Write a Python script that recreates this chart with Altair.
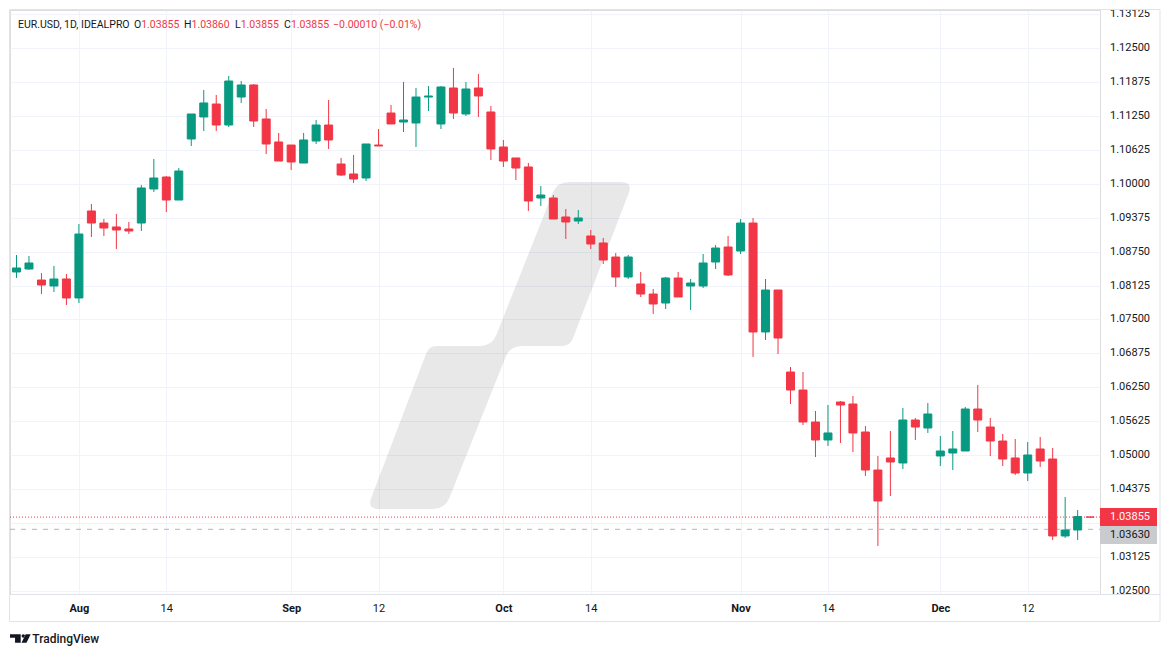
import altair as alt
import pandas as pd
import numpy as np

# ---------------- data ----------------
opens = [1.08374, 1.08429, 1.08226, 1.08116, 1.08245, 1.07895, 1.09499, 1.09277, 1.09204, 1.09167,
         1.09277, 1.09904, 1.10125, 1.09701, 1.10826, 1.11232, 1.11471, 1.11084, 1.11600, 1.11822,
         1.11195, 1.10771, 1.10715, 1.10383, 1.10789, 1.11084, 1.10365, 1.10181, 1.10107, 1.10715,
         1.11305, 1.11139, 1.11121, 1.11600, 1.11103, 1.11766, 1.11287, 1.11766, 1.11324, 1.10678,
         1.10476, 1.10310, 1.09738, 1.09738, 1.09388, 1.09314, 1.09038, 1.08909, 1.08650, 1.08282,
         1.08153, 1.07968, 1.07802, 1.08263, 1.08116, 1.08116, 1.08558, 1.08835, 1.08761, 1.09277,
         1.07268, 1.08042, 1.06530, 1.06198, 1.05608, 1.05277, 1.05977, 1.05940, 1.05424, 1.04723,
         1.04945, 1.04853, 1.05645, 1.05498, 1.04982, 1.05037, 1.05074, 1.05848, 1.05516, 1.05258,
         1.04945, 1.04668, 1.05111, 1.04926, 1.03507, 1.03617, 1.03855]
highs = [1.08687, 1.08669, 1.08355, 1.08485, 1.08337, 1.09259, 1.09628, 1.09351, 1.09443, 1.09296,
         1.09978, 1.10457, 1.10144, 1.10291, 1.11287, 1.11729, 1.11637, 1.11988, 1.11895, 1.11840,
         1.11379, 1.10937, 1.10715, 1.10937, 1.11176, 1.11545, 1.10476, 1.10531, 1.10734, 1.11010,
         1.11453, 1.11877, 1.11766, 1.11803, 1.11803, 1.12135, 1.11877, 1.12024, 1.11434, 1.10808,
         1.10476, 1.10384, 1.09959, 1.09793, 1.09535, 1.09517, 1.09148, 1.09001, 1.08724, 1.08687,
         1.08374, 1.08060, 1.08282, 1.08374, 1.08245, 1.08706, 1.08872, 1.09038, 1.09351, 1.09370,
         1.08245, 1.08042, 1.06622, 1.06530, 1.05811, 1.05922, 1.05996, 1.06088, 1.05535, 1.04982,
         1.05442, 1.05867, 1.05682, 1.05959, 1.05350, 1.05442, 1.05885, 1.06291, 1.05682, 1.05387,
         1.05295, 1.05240, 1.05332, 1.05129, 1.04226, 1.03986, 1.03860]
lows = [1.08263, 1.08411, 1.07968, 1.08005, 1.07766, 1.07802, 1.09019, 1.09038, 1.08798, 1.09075,
        1.09130, 1.09849, 1.09480, 1.09701, 1.10697, 1.10973, 1.10973, 1.11047, 1.11490, 1.11047,
        1.10549, 1.10420, 1.10254, 1.10383, 1.10734, 1.10642, 1.10144, 1.10015, 1.10052, 1.10697,
        1.11103, 1.10955, 1.10679, 1.11342, 1.11010, 1.11195, 1.11250, 1.11232, 1.10439, 1.10310,
        1.10070, 1.09499, 1.09591, 1.09351, 1.08982, 1.09259, 1.08798, 1.08521, 1.08097, 1.08245,
        1.07913, 1.07600, 1.07692, 1.07913, 1.07673, 1.08079, 1.08429, 1.08300, 1.08706, 1.06807,
        1.07120, 1.06862, 1.05940, 1.05553, 1.04963, 1.05166, 1.05221, 1.05055, 1.04613, 1.03322,
        1.04244, 1.04742, 1.05277, 1.05406, 1.04797, 1.04723, 1.05074, 1.05424, 1.04982, 1.04797,
        1.04631, 1.04521, 1.04779, 1.03433, 1.03470, 1.03433, 1.03855]
closes = [1.08448, 1.08540, 1.08134, 1.08245, 1.07895, 1.09074, 1.09277, 1.09185, 1.09148, 1.09130,
          1.09923, 1.10107, 1.09701, 1.10236, 1.11287, 1.11490, 1.11084, 1.11895, 1.11822, 1.11158,
          1.10734, 1.10420, 1.10402, 1.10808, 1.11084, 1.10808, 1.10162, 1.10089, 1.10734, 1.10697,
          1.11103, 1.11176, 1.11600, 1.11619, 1.11785, 1.11305, 1.11748, 1.11619, 1.10642, 1.10420,
          1.10291, 1.09683, 1.09793, 1.09351, 1.09296, 1.09370, 1.08890, 1.08595, 1.08282, 1.08650,
          1.07968, 1.07784, 1.08263, 1.07913, 1.08171, 1.08540, 1.08816, 1.08319, 1.09277, 1.07268,
          1.08042, 1.07157, 1.06198, 1.05608, 1.05277, 1.05406, 1.05922, 1.05406, 1.04723, 1.04152,
          1.04871, 1.05645, 1.05516, 1.05756, 1.05074, 1.05111, 1.05848, 1.05645, 1.05258, 1.04926,
          1.04668, 1.05000, 1.04889, 1.03507, 1.03617, 1.03865, 1.03855]

tick_index = [5, 12, 22, 29, 39, 46, 58, 65, 74, 81]
tick_labels = ["Aug", "14", "Sep", "12", "Oct", "14", "Nov", "14", "Dec", "12"]
price_ticks = [1.02500, 1.03125, 1.03750, 1.04375, 1.05000, 1.05625, 1.06250, 1.06875, 1.07500,
               1.08125, 1.08750, 1.09375, 1.10000, 1.10625, 1.11250, 1.11875, 1.12500, 1.13125]
symbol_name = "EUR.USD, 1D, IDEALPRO"
ref_price = 1.03630

# ---------------- style ----------------
GREEN = "#089981"
RED = "#f23645"
TEXT = "#131722"
GRID = "#f0f3fa"
BORDER = "#e0e3eb"
FONT = "Roboto"
W, H = 1090, 584
X_DOMAIN = [-0.12, 86.39]
Y_DOMAIN = [1.024373, 1.132043]

df = pd.DataFrame({"i": np.arange(len(opens)), "open": opens, "high": highs,
                   "low": lows, "close": closes})
df["dir"] = np.where(df["close"] > df["open"], "up", "down")

x_scale = alt.Scale(domain=X_DOMAIN, nice=False, zero=False)
y_scale = alt.Scale(domain=Y_DOMAIN, nice=False, zero=False)
dir_scale = alt.Scale(domain=["up", "down"], range=[GREEN, RED])

label_expr = "''"
for ix, lab in reversed(list(zip(tick_index, tick_labels))):
    label_expr = f"datum.value == {ix} ? '{lab}' : ({label_expr})"
month_index = [ix for ix, lab in zip(tick_index, tick_labels) if not lab.isdigit()]

x_axis = alt.Axis(values=tick_index, labelExpr=label_expr, grid=True, gridColor=GRID,
                  domain=False, ticks=False, tickSize=0, labelPadding=14,
                  labelBaseline="middle", labelFontSize=11, labelColor=TEXT, labelFont=FONT,
                  labelFontWeight={"condition": {"test": f"indexof({month_index}, datum.value) >= 0",
                                                 "value": "bold"}, "value": "normal"},
                  labelOverlap=False, labelFlush=False, title=None)
# horizontal grid from the axis; price labels drawn as a text layer on the same scale
y_axis = alt.Axis(orient="right", values=price_ticks, grid=True, gridColor=GRID, labels=False,
                  domain=False, ticks=False, tickSize=0, title=None)

one = pd.DataFrame({"a": [0]})


def rounded_path(pts, radii, cx, cy, scale):
    n = len(pts)
    segs = []
    for k in range(n):
        px, py = pts[k]
        r = radii[k]

        def toward(q):
            dx, dy = q[0] - px, q[1] - py
            d = (dx * dx + dy * dy) ** 0.5
            t = min(r, d / 2) / d
            return (px + dx * t, py + dy * t)
        segs.append((toward(pts[k - 1]), (px, py), toward(pts[(k + 1) % n])))

    def u(p):
        return f"{(p[0] - cx) / scale:.4f} {(p[1] - cy) / scale:.4f}"
    d = f"M {u(segs[0][2])}"
    for k in list(range(1, n)) + [0]:
        p1, p, p2 = segs[k]
        d += f" L {u(p1)} Q {u(p)} {u(p2)}"
    return d + " Z"


# watermark (TradingView slash) - decoration
wm_pts = [(557, 182), (633, 182), (570, 346), (510, 346), (445, 509), (367, 509), (429, 346), (492, 346)]
wm_rad = [12, 12, 8, 12, 12, 12, 8, 12]
wm_path = rounded_path(wm_pts, wm_rad, 500, 345.5, 163.5)
watermark = alt.Chart(one).mark_point(shape=wm_path, size=(2 * 163.5) ** 2, filled=True,
                                      color="#000000", opacity=0.09, strokeWidth=0).encode(
    x=alt.value(490), y=alt.value(335.5))

last_price = closes[-1]
lines_df = pd.DataFrame({"price": [last_price], "label": [f"{last_price:.5f}"]})
ref_df = pd.DataFrame({"price": [ref_price], "label": [f"{ref_price:.5f}"]})

Yp = alt.Y("price:Q", scale=y_scale, axis=y_axis)

red_line = alt.Chart(lines_df).mark_rule(color=RED, strokeDash=[1, 2], strokeWidth=1).encode(
    y=Yp, x=alt.value(0), x2=alt.value(W))
gray_line = alt.Chart(ref_df).mark_rule(color="#b2b5be", strokeDash=[5, 6], strokeWidth=1).encode(
    y=Yp, x=alt.value(0), x2=alt.value(W))

wicks = alt.Chart(df).mark_rule(strokeWidth=1, clip=True).encode(
    x=alt.X("i:Q", scale=x_scale, axis=x_axis),
    y=alt.Y("low:Q", scale=y_scale, axis=y_axis),
    y2="high:Q",
    color=alt.Color("dir:N", scale=dir_scale, legend=None))

bodies = alt.Chart(df).mark_bar(size=8, strokeWidth=1, clip=True).encode(
    x=alt.X("i:Q", scale=x_scale, axis=x_axis),
    y=alt.Y("open:Q", scale=y_scale, axis=y_axis),
    y2="close:Q",
    color=alt.Color("dir:N", scale=dir_scale, legend=None),
    stroke=alt.Stroke("dir:N", scale=dir_scale, legend=None))

# price-scale labels (the ones hidden behind the price tags are left out, as in the reference)
label_ticks = [t for t in price_ticks
               if abs(t - last_price) > 0.003 and abs(t - ref_price) > 0.003]
ylab_df = pd.DataFrame({"price": label_ticks, "label": [f"{t:.5f}" for t in label_ticks]})
ylabels = alt.Chart(ylab_df).mark_text(align="left", baseline="middle", fontSize=11, font=FONT,
                                       color=TEXT).encode(
    x=alt.value(W + 10), y=Yp, text="label:N")

# price tags on the price scale
tag_path_red = "M -1 -0.3158 L 1 -0.3158 L 1 0.3158 L -1 0.3158 Z"
tag_path_gray = "M -1 -0.1158 L 1 -0.1158 L 1 0.5158 L -1 0.5158 Z"
red_tag = alt.Chart(lines_df).mark_point(shape=tag_path_red, size=57 ** 2, filled=True, color=RED,
                                         opacity=1, strokeWidth=0).encode(x=alt.value(1118.5), y=Yp)
gray_tag = alt.Chart(ref_df).mark_point(shape=tag_path_gray, size=57 ** 2, filled=True,
                                        color="#c9cbcf", opacity=1, strokeWidth=0).encode(
    x=alt.value(1118.5), y=Yp)
red_tag_text = alt.Chart(lines_df).mark_text(align="left", baseline="middle", color="#ffffff",
                                             fontSize=11, font=FONT).encode(
    x=alt.value(W + 10), y=Yp, text="label:N")
gray_tag_text = alt.Chart(ref_df).mark_text(align="left", baseline="middle", color=TEXT,
                                            fontSize=11, font=FONT, dy=5.7).encode(
    x=alt.value(W + 10), y=Yp, text="label:N")

# frame pieces
cover = alt.Chart(one).mark_rect(color="#ffffff").encode(
    x=alt.value(W + 0.5), x2=alt.value(1150), y=alt.value(584.5), y2=alt.value(611))
frame = alt.Chart(one).mark_rect(fillOpacity=0, stroke=BORDER, strokeWidth=1).encode(
    x=alt.value(-0.5), x2=alt.value(1150), y=alt.value(-0.5), y2=alt.value(611.5))
sep = alt.Chart(one).mark_rule(color=BORDER, strokeWidth=1).encode(
    x=alt.value(-0.5), x2=alt.value(1150), y=alt.value(584.5))

# header legend
prev_close = closes[-2]
chg = closes[-1] - prev_close
pct = chg / prev_close * 100
sign = "\u2212" if chg < 0 else "+"
chg_txt = f"{sign}{abs(chg):.5f} ({sign}{abs(pct):.2f}%)"
header_parts = [
    (symbol_name, TEXT, 8),
    ("O", TEXT, 124), (f"{opens[-1]:.5f}", RED, 131.2),
    ("H", TEXT, 174), (f"{highs[-1]:.5f}", RED, 181.5),
    ("L", TEXT, 225), (f"{lows[-1]:.5f}", RED, 230.7),
    ("C", TEXT, 274), (f"{closes[-1]:.5f}", RED, 280.9),
    (chg_txt, RED, 323),
]
header_layers = [
    alt.Chart(one).mark_text(align="left", baseline="middle", fontSize=10.5, font=FONT,
                             color=col).encode(text=alt.value(txt), x=alt.value(px), y=alt.value(14.5))
    for txt, col, px in header_parts
]

# TradingView logo at bottom-left
logo_path = ("M -1 -0.4 L 0.02 -0.4 L 0.02 0.4 L -0.52 0.4 L -0.52 -0.08 L -1 -0.08 Z "
             "M 0.105 -0.238 A 0.162 0.162 0 1 0 0.429 -0.238 A 0.162 0.162 0 1 0 0.105 -0.238 Z "
             "M 0.495 -0.4 L 0.971 -0.4 L 0.571 0.4 L 0.095 0.4 Z")
logo = alt.Chart(one).mark_point(shape=logo_path, size=21 ** 2, filled=True, color=TEXT,
                                 opacity=1, strokeWidth=0).encode(x=alt.value(10.5), y=alt.value(628.5))
logo_text = alt.Chart(one).mark_text(align="left", baseline="middle", fontSize=12, font=FONT,
                                     fontWeight=500, color=TEXT).encode(
    text=alt.value("TradingView"), x=alt.value(22.3), y=alt.value(628.5))

chart = alt.layer(
    watermark, gray_line, red_line, wicks, bodies, ylabels,
    cover, frame, sep, red_tag, gray_tag, red_tag_text, gray_tag_text,
    *header_layers, logo, logo_text
).properties(
    width=W, height=H,
    padding={"left": 2, "top": 2, "right": 61, "bottom": 52},
    autosize=alt.AutoSizeParams(type="none"),
    background="#ffffff",
).configure_view(strokeWidth=0).configure(font=FONT)

chart.save("out.html", embed_options={"renderer": "svg", "actions": False})
